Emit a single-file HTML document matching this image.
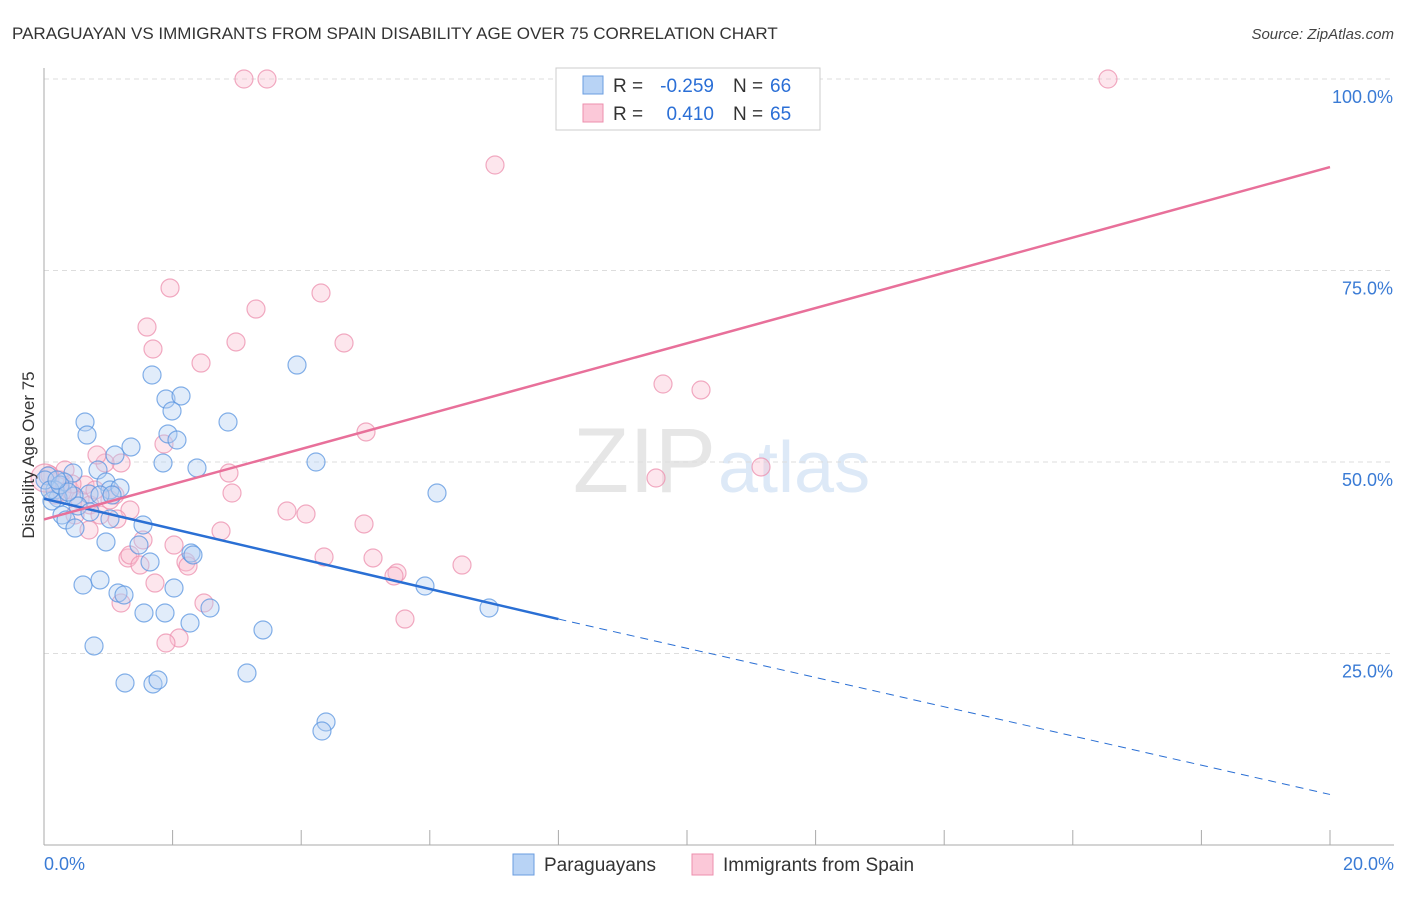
<!DOCTYPE html>
<html><head><meta charset="utf-8"><style>
body{margin:0;background:#fff;font-family:"Liberation Sans",sans-serif;}
svg text{font-family:"Liberation Sans",sans-serif;}
</style></head><body>
<svg id="chart" width="1406" height="892" xmlns="http://www.w3.org/2000/svg">
<text x="12" y="39" font-size="17" fill="#333">PARAGUAYAN VS IMMIGRANTS FROM SPAIN DISABILITY AGE OVER 75 CORRELATION CHART</text>
<text x="1394" y="39" font-size="15" fill="#444" text-anchor="end" font-style="italic">Source: ZipAtlas.com</text>
<text x="716" y="492" font-size="92" fill="#e6e6e6" text-anchor="end" font-family="Liberation Serif">ZIP</text>
<text x="718" y="492" font-size="72" fill="#dde9f7">atlas</text>
<g id="grid"></g>
<g id="axes"></g>
<g id="points"></g>
<g id="trends"></g>
<text transform="translate(34,455) rotate(-90)" font-size="17" fill="#333" text-anchor="middle">Disability Age Over 75</text>
<g>
<rect x="556" y="68" width="264" height="62" fill="#fff" stroke="#ccc"/>
<rect x="583" y="76" width="20" height="18" fill="#b8d3f5" stroke="#6a9de0"/>
<rect x="583" y="104" width="20" height="18" fill="#fbc8d8" stroke="#ec8fae"/>
<text x="613" y="92" font-size="19" fill="#333">R =</text>
<text x="714" y="92" font-size="19" fill="#2b6fd6" text-anchor="end">-0.259</text>
<text x="733" y="92" font-size="19" fill="#333">N =</text>
<text x="770" y="92" font-size="19" fill="#2b6fd6">66</text>
<text x="613" y="120" font-size="19" fill="#333">R =</text>
<text x="714" y="120" font-size="19" fill="#2b6fd6" text-anchor="end">0.410</text>
<text x="733" y="120" font-size="19" fill="#333">N =</text>
<text x="770" y="120" font-size="19" fill="#2b6fd6">65</text>
</g>
<g>
<rect x="513" y="854" width="21" height="21" fill="#b8d3f5" stroke="#6a9de0"/>
<text x="544" y="871" font-size="19" fill="#333">Paraguayans</text>
<rect x="692" y="854" width="21" height="21" fill="#fbc8d8" stroke="#ec8fae"/>
<text x="723" y="871" font-size="19" fill="#333">Immigrants from Spain</text>
</g>
</svg>
<script>
const yTicks=[25,50,75,100];
const yTickLabels=["25.0%","50.0%","75.0%","100.0%"];
const xTickLabels=["0.0%","20.0%"];
const bluePx=[[85,422],[87,435],[152,375],[166,399],[181,396],[172,411],[228,422],[297,365],[131,447],[168,434],[177,440],[115,455],[163,463],[197,468],[316,462],[437,493],[98,470],[73,473],[48,476],[106,482],[64,482],[55,490],[110,490],[89,494],[74,496],[58,498],[52,501],[78,506],[90,512],[62,515],[66,520],[110,519],[75,528],[143,525],[106,542],[139,545],[191,553],[193,555],[150,562],[83,585],[100,580],[118,593],[124,595],[144,613],[165,613],[174,588],[210,608],[190,623],[94,646],[263,630],[425,586],[489,608],[125,683],[153,684],[158,680],[247,673],[326,722],[322,731],[45,480],[50,490],[60,485],[68,492],[120,488],[100,495],[112,495],[57,480]];
const pinkPx=[[244,79],[267,79],[1108,79],[578,79],[495,165],[170,288],[321,293],[256,309],[147,327],[236,342],[344,343],[153,349],[201,363],[663,384],[701,390],[366,432],[164,444],[229,473],[761,467],[656,478],[121,463],[105,463],[97,455],[232,493],[287,511],[306,514],[364,524],[221,531],[130,510],[117,519],[89,530],[143,540],[174,545],[128,558],[186,562],[188,566],[324,557],[373,558],[397,573],[394,576],[462,565],[155,583],[121,603],[204,603],[179,638],[166,643],[405,619],[50,475],[60,480],[70,490],[80,500],[55,495],[75,515],[90,505],[110,500],[115,495],[65,470],[100,515],[130,555],[140,565],[85,485],[95,490],[72,484],[62,492],[45,478]];
const toX=p=>(p-44)/1286*20, toY=p=>(845-p)/766*100;
const blueX=bluePx.map(d=>+toX(d[0]).toFixed(3)), blueY=bluePx.map(d=>+toY(d[1]).toFixed(2));
const pinkX=pinkPx.map(d=>+toX(d[0]).toFixed(3)), pinkY=pinkPx.map(d=>+toY(d[1]).toFixed(2));
const blueTrend=[[0,45.2],[8,29.5],[20,6.6]];
const pinkTrend=[[0,42.5],[20,88.5]];
const X=v=>44+v/20*1286, Y=v=>845-v/100*766;
const NS="http://www.w3.org/2000/svg";
function mk(t,a,p){const e=document.createElementNS(NS,t);for(const k in a)e.setAttribute(k,a[k]);p.appendChild(e);return e;}
const grid=document.getElementById('grid'),axes=document.getElementById('axes'),pts=document.getElementById('points'),tr=document.getElementById('trends');
yTicks.forEach((t,i)=>{
 const l=mk('line',{x1:44,x2:1394,y1:Y(t),y2:Y(t),stroke:'#ddd','stroke-dasharray':'5,4'},grid);
 
 
 const tx=mk('text',{x:1393,y:Y(t)+24,'font-size':18,fill:'#3a7bd5','text-anchor':'end'},axes);
 tx.textContent=yTickLabels[i];
 
 
});
let a=mk('line',{x1:44,x2:44,y1:68,y2:845,stroke:'#aaa'},axes);

a=mk('line',{x1:44,x2:1394,y1:845,y2:845,stroke:'#aaa'},axes);

for(let i=0;i<=10;i++){const t=mk('line',{x1:X(i*2),x2:X(i*2),y1:830,y2:845,stroke:'#aaa'},axes);
 }
[[0,'start',44],[20,'end',1394]].forEach((d,i)=>{const t=mk('text',{x:d[2],y:870,'font-size':18,fill:'#3a7bd5','text-anchor':d[1]},axes);
 t.textContent=xTickLabels[i];});
function dots(xs,ys,fill,stroke,name){xs.forEach((x,i)=>{const c=mk('circle',{cx:X(x),cy:Y(ys[i]),r:(name==='spain-point'&&i===xs.length-1)?14:9,fill:fill,'fill-opacity':0.4,stroke:stroke,'stroke-opacity':0.75,'stroke-width':1.2},pts);
 });}
dots(pinkX,pinkY,'#f9c0d2','#ec8fae','spain-point');
dots(blueX,blueY,'#b3d0f3','#5b95e0','paraguayan-point');
let l=mk('line',{x1:X(blueTrend[0][0]),y1:Y(blueTrend[0][1]),x2:X(blueTrend[1][0]),y2:Y(blueTrend[1][1]),stroke:'#2a6fd4','stroke-width':2.5},tr);

l=mk('line',{x1:X(blueTrend[1][0]),y1:Y(blueTrend[1][1]),x2:X(blueTrend[2][0]),y2:Y(blueTrend[2][1]),stroke:'#2a6fd4','stroke-width':1,'stroke-dasharray':'8,6'},tr);

l=mk('line',{x1:X(pinkTrend[0][0]),y1:Y(pinkTrend[0][1]),x2:X(pinkTrend[1][0]),y2:Y(pinkTrend[1][1]),stroke:'#e8709a','stroke-width':2.5},tr);

</script>
</body></html>
